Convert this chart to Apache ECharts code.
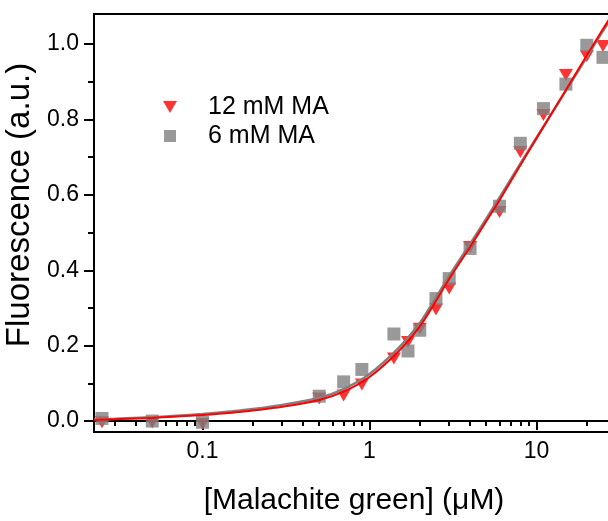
<!DOCTYPE html>
<html>
<head>
<meta charset="utf-8">
<script src="https://cdn.jsdelivr.net/npm/echarts@6/dist/echarts.min.js"></script>
<style>
  html, body { margin: 0; padding: 0; background: #fff; }
  #chart { width: 608px; height: 521px; }
</style>
</head>
<body>
<div id="chart"></div>
<script>
// concentrations (uM) of the measured points
const concentrations = [0.025, 0.05, 0.1, 0.5, 0.7, 0.9, 1.4, 1.7, 2.0, 2.5, 3.0, 4.0, 6.0, 8.0, 11, 15, 20, 25];
const ma12 = [-0.003, -0.004, -0.008, 0.060, 0.068, 0.097, 0.166, 0.210, 0.245, 0.296, 0.352, 0.462, 0.555, 0.714, 0.812, 0.918, 0.968, 0.995];
const ma6 = [0.007, 0.0, -0.003, 0.066, 0.104, 0.137, 0.231, 0.186, 0.241, 0.325, 0.378, 0.458, 0.570, 0.737, 0.829, 0.894, 0.997, 0.965];

// fitted curves
const fitX = [0.0224, 0.03, 0.05, 0.07, 0.1, 0.15, 0.2, 0.3, 0.5, 0.7, 1, 1.5, 2, 2.4, 3, 4, 5, 6, 8, 10, 13, 16, 20, 25, 30, 35.3];
const fit6 = [0.004, 0.006, 0.010, 0.014, 0.019, 0.026, 0.032, 0.043, 0.062, 0.085, 0.125, 0.195, 0.260, 0.315, 0.385, 0.470, 0.537, 0.593, 0.683, 0.752, 0.833, 0.897, 0.966, 1.035, 1.090, 1.140];
const fit12 = [0.003, 0.005, 0.008, 0.012, 0.016, 0.022, 0.028, 0.038, 0.056, 0.078, 0.117, 0.186, 0.251, 0.306, 0.377, 0.462, 0.530, 0.586, 0.679, 0.750, 0.833, 0.899, 0.970, 1.040, 1.095, 1.145];

const xMajor = [0.1, 1, 10];
const xMinor = [0.03, 0.04, 0.05, 0.06, 0.07, 0.08, 0.09, 0.2, 0.3, 0.4, 0.5, 0.6, 0.7, 0.8, 0.9, 2, 3, 4, 5, 6, 7, 8, 9, 20, 30];
const yMajor = [0, 0.2, 0.4, 0.6, 0.8, 1.0];
const yMinor = [0.1, 0.3, 0.5, 0.7, 0.9];

const FONT = "Liberation Sans";
const X_MIN = 0.0224, X_MAX = 35.3, Y_MIN = -0.029, Y_MAX = 1.08;

const pair = (xs, ys) => xs.map((x, i) => [x, ys[i]]);

const chart = echarts.init(document.getElementById("chart"));
chart.setOption({
  animation: false,
  backgroundColor: "#fff",
  grid: {
    left: 94, top: 14, right: -20, bottom: 89,
    outerBoundsMode: "none", containLabel: false,
    show: true, borderColor: "#000", borderWidth: 2, backgroundColor: "transparent"
  },
  legend: {
    orient: "vertical",
    left: 158, top: 88,
    itemWidth: 14, itemHeight: 12, itemGap: 1,
    textStyle: { fontFamily: FONT, fontSize: 25, color: "#000", lineHeight: 28, padding: [0, 0, 0, 26] },
    data: [
      { name: "12 mM MA", icon: "path://M0,0L14,0L7,12Z" },
      { name: "6 mM MA", icon: "path://M0,0L12,0L12,12L0,12Z" }
    ]
  },
  xAxis: [
    {
      type: "log", min: X_MIN, max: X_MAX,
      name: "[Malachite green] (\u03bcM)", nameLocation: "middle", nameGap: 54,
      nameTextStyle: { fontFamily: FONT, fontSize: 30, color: "#000", padding: [0, 14, 0, 0] },
      axisLine: { lineStyle: { color: "#000", width: 2 } },
      axisTick: { customValues: xMajor, length: 9, lineStyle: { color: "#000", width: 2 } },
      axisLabel: { customValues: xMajor, fontFamily: FONT, fontSize: 23, color: "#000", margin: 8,
        formatter: (v) => String(v) },
      splitLine: { show: false }, minorTick: { show: false }
    },
    {
      type: "log", min: X_MIN, max: X_MAX, position: "bottom",
      axisLine: { show: false },
      axisTick: { customValues: xMinor, length: 5, lineStyle: { color: "#000", width: 2 } },
      axisLabel: { show: false },
      splitLine: { show: false }
    }
  ],
  yAxis: [
    {
      type: "value", min: Y_MIN, max: Y_MAX,
      name: "Fluorescence (a.u.)", nameLocation: "middle", nameGap: 52,
      nameTextStyle: { fontFamily: FONT, fontSize: 33, color: "#000", padding: [0, 0, 0, 36] },
      axisLine: { show: true, lineStyle: { color: "#000", width: 2 } },
      axisTick: { customValues: yMajor, length: 10, lineStyle: { color: "#000", width: 2 } },
      axisLabel: { customValues: yMajor, fontFamily: FONT, fontSize: 23, color: "#000", margin: 15,
        formatter: (v) => v.toFixed(1) },
      splitLine: { show: false }
    },
    {
      type: "value", min: Y_MIN, max: Y_MAX, position: "left",
      axisLine: { show: false },
      axisTick: { show: true, customValues: yMinor, length: 6, lineStyle: { color: "#000", width: 2 } },
      axisLabel: { show: false },
      splitLine: { show: false }
    }
  ],
  series: [
    {
      name: "12 mM MA", type: "scatter",
      symbol: "triangle", symbolRotate: 180, symbolSize: [14, 12],
      itemStyle: { color: "#ff0000" },
      data: pair(concentrations, ma12), z: 2
    },
    {
      name: "6 mM MA", type: "scatter",
      symbol: "rect", symbolSize: 13,
      itemStyle: { color: "#808080" },
      data: pair(concentrations, ma6), z: 3
    },
    {
      name: "6 mM fit", type: "line", smooth: 0.3, showSymbol: false,
      lineStyle: { color: "#808080", width: 2.5 },
      data: pair(fitX, fit6), z: 4
    },
    {
      name: "12 mM fit", type: "line", smooth: 0.3, showSymbol: false,
      lineStyle: { color: "#ff0000", width: 2 },
      data: pair(fitX, fit12), z: 5
    }
  ]
});
</script>
</body>
</html>
